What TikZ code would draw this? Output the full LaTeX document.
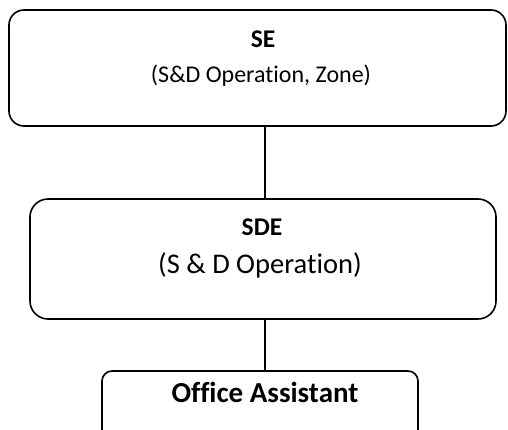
\documentclass[tikz,border=0pt]{standalone}
\usepackage{fontspec}
\setmainfont[Ligatures={NoCommon}]{Carlito}
\begin{document}
\begin{tikzpicture}[x=1pt,y=-1pt,
  box/.style={draw=black,line width=1.6pt,fill=none,inner sep=0pt},
  link/.style={draw=black,line width=1.3pt},
  lbl/.style={anchor=base,inner sep=0pt,text=black}]
\useasboundingbox (0,0) rectangle (508,430);
% boxes
\node[box,rounded corners=15pt,minimum width=497pt,minimum height=116pt] (se) at (257.5,68) {};
\node[box,rounded corners=18pt,minimum width=466pt,minimum height=120pt] (sde) at (263,259) {};
\node[box,rounded corners=10pt,minimum width=316pt,minimum height=74pt] (oa) at (260,408) {};
% labels
\node[lbl,font=\fontsize{25.5}{30}\selectfont\bfseries] (seT) at (263,48) {SE};
\node[lbl,font=\fontsize{24}{29}\selectfont] (seS) at (261,83) {(S\&D Operation, Zone)};
\node[lbl,font=\fontsize{25.5}{30}\selectfont\bfseries] (sdeT) at (262,236) {SDE};
\node[lbl,font=\fontsize{28.5}{34}\selectfont] (sdeS) at (260,273) {(S \& D Operation)};
\node[lbl,font=\fontsize{29}{34}\selectfont\bfseries] (oaT) at (265,402) {Office Assistant};
% connectors
\coordinate (lx) at (265,0);
\draw[link] (se.south -| lx) -- (sde.north -| lx);
\draw[link] (sde.south -| lx) -- (oa.north -| lx);
\end{tikzpicture}
\end{document}
